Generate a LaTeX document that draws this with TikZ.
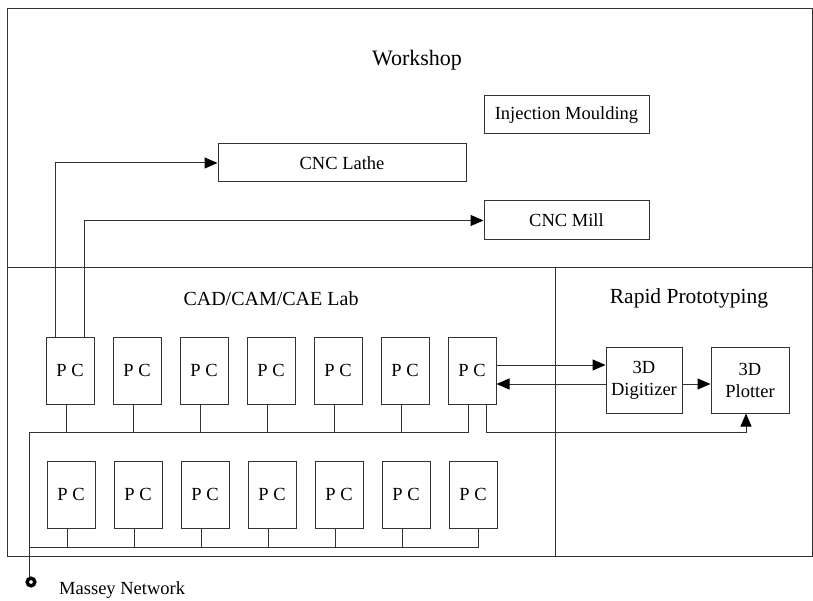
\documentclass[tikz,border=0pt]{standalone}
\usepackage{fontspec}
\setmainfont{Liberation Serif}
\usetikzlibrary{arrows.meta}
\begin{document}
\begin{tikzpicture}[x=1pt,y=-1pt,
  wire/.style={draw=black!80,line width=1pt},
  link/.style={wire,-{Triangle[length=13pt,width=11pt,color=black]}},
  unit/.style={draw=black!80,line width=1pt,inner sep=0pt,
    font=\fontsize{18.5}{22}\selectfont,align=center},
  pcbox/.style={unit,minimum width=48pt,minimum height=67pt},
  title/.style={inner sep=0pt}]
\useasboundingbox (0,0) rectangle (813,601);

% room outlines
\draw[wire] (7,9) rectangle (812,556);
\draw[wire] (7,268) -- (812,268);
\draw[wire] (555,268) -- (555,556);

% area titles
\node[title,font=\fontsize{22}{26}\selectfont] (ws) at (417,60) {Workshop};
\node[title,font=\fontsize{20}{24}\selectfont] (lab) at (271,299) {CAD/CAM/CAE Lab};
\node[title,font=\fontsize{21.5}{25}\selectfont] (rp) at (689,298) {Rapid Prototyping};

% workshop machines
\node[unit,minimum width=165pt,minimum height=38pt] (inj) at (566.5,115) {Injection Moulding};
\node[unit,minimum width=248pt,minimum height=38pt] (lathe) at (342,163) {CNC Lathe};
\node[unit,minimum width=165pt,minimum height=39pt] (mill) at (566.5,220.5) {CNC Mill};

% rapid prototyping machines
\node[unit,minimum width=76pt,minimum height=66pt] (dig) at (644,380) {3D\\Digitizer};
\node[unit,minimum width=78pt,minimum height=66pt] (plot) at (750,380) {3D\\Plotter};

% two rows of PCs
\foreach \i in {1,...,7}{
  \node[pcbox] (t\i) at ({70+67*(\i-1)},370.5) {P C};
  \node[pcbox] (b\i) at ({71+67*(\i-1)},494.5) {P C};
}

% network buses
\coordinate (tbL) at (29,432);
\coordinate (bbL) at (29,547);
\coordinate (net) at (31,582);
\foreach \i in {1,...,6}{
  \draw[wire] ([xshift=-4pt]t\i.south) -- ([xshift=-4pt]t\i.south |- tbL);
  \draw[wire] ([xshift=-4pt]b\i.south) -- ([xshift=-4pt]b\i.south |- bbL);
}
\draw[wire] ([xshift=-4pt]t7.south) -- ([xshift=-4pt]t7.south |- tbL) -- (tbL) -- (29,577);
\draw[wire] ([xshift=5pt]b7.south) -- ([xshift=5pt]b7.south |- bbL) -- (bbL);
\draw[black,line width=3.4pt,fill=white] (net) circle (3.8pt);
\node[anchor=west,inner sep=0pt,font=\fontsize{18.5}{22}\selectfont] (mn) at (59,590) {Massey Network};

% links to workshop machines
\draw[link] ([xshift=-15pt]t1.north) |- (lathe.west);
\draw[link] ([xshift=14pt]t1.north) |- (mill.west);

% links to rapid prototyping
\draw[link] (t7.east |- 0,365) -- (dig.west |- 0,365);
\draw[link] (dig.west |- 0,384) -- (t7.east |- 0,384);
\draw[link] (dig.east |- 0,384) -- (plot.west |- 0,384);
\draw[link] ([xshift=14pt]t7.south) -- ++(0,28) -| ([xshift=-4pt]plot.south);
\end{tikzpicture}
\end{document}
